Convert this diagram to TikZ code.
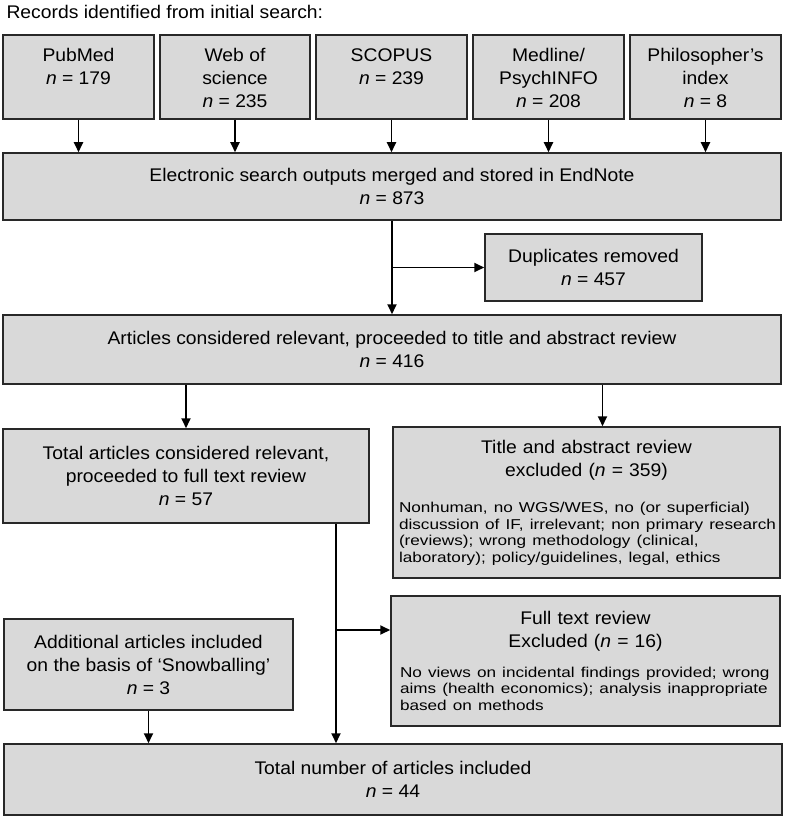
\documentclass[tikz,border=0pt]{standalone}
\usepackage{fontspec}
\setmainfont{Liberation Sans}[FakeStretch=1.055]
\newfontfamily\notefam{Liberation Sans}[FakeStretch=1.2]
\usetikzlibrary{arrows.meta, calc}

\definecolor{boxgrey}{RGB}{217,217,217}
\definecolor{edgegrey}{RGB}{40,40,40}
\newcommand{\boxfont}{\fontsize{18.3}{23}\selectfont}
\newcommand{\notefont}{\notefam\fontsize{14.3}{16.5}\selectfont}
\newcommand{\noteline}[1]{\hbox{#1}}
\setlength{\parindent}{0pt}
\hyphenpenalty=10000
\exhyphenpenalty=10000

\tikzset{
  box/.style={draw=edgegrey, fill=boxgrey, line width=1.5pt, inner sep=0pt, font=\boxfont, align=center},
  srcbox/.style={box, minimum width=151pt, minimum height=84pt,
    label={[font=\boxfont, align=center, inner sep=0pt, anchor=north, yshift=-14pt]north:{#1}}},
  notebox/.style={draw=edgegrey, fill=boxgrey, line width=1.5pt, inner sep=6pt, font=\boxfont},
  flow/.style={line width=1.8pt, -{Triangle[length=10pt,width=9pt]}},
  link/.style={line width=1.8pt}
}

\begin{document}
\begin{tikzpicture}[x=1pt,y=-1pt]
\useasboundingbox (0,0) rectangle (786,818);

\node[anchor=base west, font=\boxfont] (head) at (3,18.5) {Records identified from initial search:};

  % Database boxes
  \node[srcbox={PubMed\\ \textit{n} = 179}] (pub) at (78.5,77) {};
  \node[srcbox={Web of\\ science\\ \textit{n} = 235}, minimum width=150pt] (wos) at (235,77) {};
  \node[srcbox={SCOPUS\\ \textit{n} = 239}] (sco) at (391.5,77) {};
  \node[srcbox={Medline/\\ PsychINFO\\ \textit{n} = 208}] (med) at (548.5,77) {};
  \node[srcbox={Philosopher’s\\ index\\ \textit{n} = 8}] (phil) at (705.5,77) {};

  % Flow boxes
  \node[box, minimum width=778pt, minimum height=67pt] (merged) at (392,186.5) {Electronic search outputs merged and stored in EndNote\\ \textit{n} = 873};
  \node[box, minimum width=217pt, minimum height=67pt] (dup) at (593.5,267.5) {Duplicates removed\\ \textit{n} = 457};
  \node[box, minimum width=778pt, minimum height=69pt] (art) at (392,349.5) {Articles considered relevant, proceeded to title and abstract review\\ \textit{n} = 416};
  \node[box, minimum width=366pt, minimum height=94pt] (full) at (186,476) {Total articles considered relevant,\\ proceeded to full text review\\ \textit{n} = 57};
  \node[notebox, text width=375pt, minimum height=151pt] (tiab) at (586.5,502.5) {%
    {\centering Title and abstract review\\ excluded (\textit{n} = 359)\par}
    \vspace{20pt}
    {\notefont
    \noteline{Nonhuman, no WGS/WES, no (or superficial)}
    \noteline{discussion of IF, irrelevant; non primary research}
    \noteline{(reviews); wrong methodology (clinical,}
    \noteline{laboratory); policy/guidelines, legal, ethics}}};
  \node[notebox, inner sep=9pt, text width=371pt, minimum height=130pt] (ftex) at (585.5,661) {%
    {\centering Full text review\\ Excluded (\textit{n} = 16)\par}
    \vspace{13pt}
    {\notefont
    \noteline{No views on incidental findings provided; wrong}
    \noteline{aims (health economics); analysis inappropriate}
    \noteline{based on methods}}};
  \node[box, minimum width=289pt, minimum height=91pt] (snow) at (148.5,664.5) {Additional articles included\\ on the basis of ‘Snowballing’\\ \textit{n} = 3};
  \node[box, minimum width=778pt, minimum height=71pt] (incl) at (393,779.5) {Total number of articles included\\ \textit{n} = 44};

  % Draw the arrows
  \foreach \src in {pub, wos, sco, med, phil} {
    \draw[flow] (\src.south) -- (\src.south |- merged.north);
  }
  \draw[flow] (merged.south) -- (art.north);
  \draw[flow] (merged.south |- dup.west) -- (dup.west);
  \draw[flow] (full.north |- art.south) -- (full.north);
  \draw[flow] ([xshift=16pt]tiab.north |- art.south) -- ([xshift=16pt]tiab.north);

  \coordinate (split) at (336,630);
  \draw[link] (split |- full.south) -- (split);
  \draw[flow] (split) -- (split |- incl.north);
  \draw[flow] (split) -- (split -| ftex.west);
  \draw[flow] (snow.south) -- (snow.south |- incl.north);
\end{tikzpicture}
\end{document}
